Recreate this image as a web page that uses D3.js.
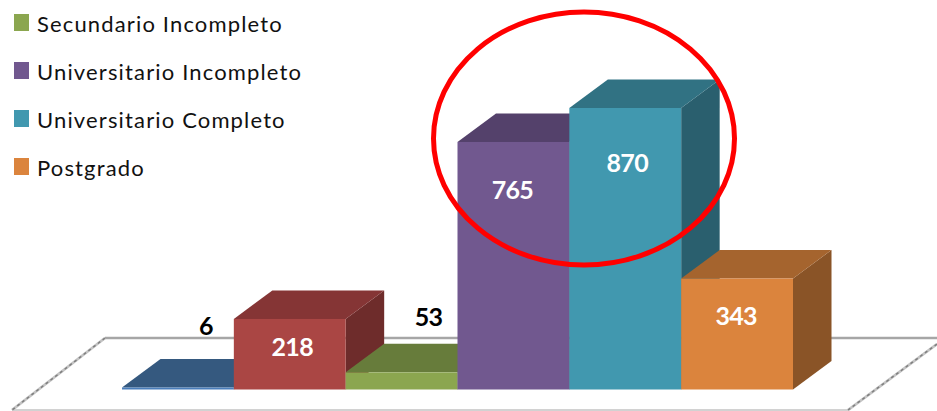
<!DOCTYPE html>
<html>
<head>
<meta charset="utf-8">
<script src="https://cdn.jsdelivr.net/npm/d3@7/dist/d3.min.js"></script>
<style>
html,body{margin:0;padding:0;background:#fff;overflow:hidden}
svg{display:block}
text{font-family:Lato,"Open Sans",sans-serif}
</style>
</head>
<body>
<svg id="c" width="937" height="411"></svg>
<script>
const categories = ["Primario","Secundario Completo","Secundario Incompleto","Universitario Incompleto","Universitario Completo","Postgrado"];
const values = [6,218,53,765,870,343];
const frontColors = ["#4A7EBB","#AA4644","#8BA64F","#71588F","#4198AF","#DB843D"];
const topColors = ["#35597F","#853535","#677C3B","#54416B","#317283","#A5642E"];
const sideColors = ["#2C4A6B","#6E2C2B","#566832","#463659","#2A5F6E","#8A5427"];
const legendItems = ["Secundario Incompleto","Universitario Incompleto","Universitario Completo","Postgrado"];
const legendColors = ["#8BA64F","#71588F","#4198AF","#DB843D"];

const W = 937, H = 411;
const svg = d3.select("#c");
const x = d3.scaleBand().domain(categories).range([122,793]).padding(0);
const y = d3.scaleLinear().domain([0,870]).range([389.5,108]);
const depthX = 38.5, depthY = 28.5;
const fmt = d3.line();

// floor
const floor = svg.append("g");
floor.append("line").attr("x1",105).attr("y1",338).attr("x2",W).attr("y2",338)
  .attr("stroke","#a6a6a6").attr("stroke-width",2.4);
floor.append("line").attr("x1",12).attr("y1",410).attr("x2",849).attr("y2",410)
  .attr("stroke","#a6a6a6").attr("stroke-width",1.2);
[[105,338,12,410],[937,344,848,410]].forEach(d=>{
  floor.append("line").attr("x1",d[0]).attr("y1",d[1]).attr("x2",d[2]).attr("y2",d[3])
    .attr("stroke","#c4c4c4").attr("stroke-width",2.8);
  floor.append("line").attr("x1",d[0]).attr("y1",d[1]).attr("x2",d[2]).attr("y2",d[3])
    .attr("stroke","#7f7f7f").attr("stroke-width",1.5).attr("stroke-dasharray","3 3");
});

// bars
const bars = svg.append("g");
categories.forEach((c,i)=>{
  const x0 = x(c), x1 = x0 + x.bandwidth();
  const yT = y(values[i]), yB = y(0);
  const g = bars.append("g");
  g.append("path").attr("fill",sideColors[i])
    .attr("d",fmt([[x1,yT],[x1+depthX,yT-depthY],[x1+depthX,yB-depthY],[x1,yB]])+"Z");
  g.append("path").attr("fill",topColors[i])
    .attr("d",fmt([[x0,yT],[x0+depthX,yT-depthY],[x1+depthX,yT-depthY],[x1,yT]])+"Z");
  g.append("rect").attr("x",x0).attr("y",yT).attr("width",x1-x0).attr("height",yB-yT)
    .attr("fill",frontColors[i]);
});

// data labels: white inside the tall bars, black floating behind the two short ones
const outside = [true,false,true,false,false,false];
const labelShiftX = [28,2.5,27,-1,2,-1];
const labelShiftY = [-61,28,-55,48,55,38];
const labels = svg.append("g").attr("font-weight",700).attr("font-size",25)
  .attr("letter-spacing",-0.7).attr("text-anchor","middle");
categories.forEach((c,i)=>{
  const cx = x(c)+x.bandwidth()/2, yT = y(values[i]);
  labels.append("text").attr("x",cx+labelShiftX[i]).attr("y",yT+labelShiftY[i]).attr("dy","0.35em")
    .attr("fill",outside[i]?"#000":"#fff").text(values[i]);
});

// highlight ellipse
svg.append("ellipse").attr("cx",584).attr("cy",138.5).attr("rx",150.5).attr("ry",126.5)
  .attr("fill","none").attr("stroke","#ff0000").attr("stroke-width",5);

// legend
const legendY = d3.scalePoint().domain(legendItems).range([22.5,166.5]);
const legend = svg.append("g");
legendItems.forEach((t,i)=>{
  legend.append("rect").attr("x",14).attr("y",legendY(t)-8.5).attr("width",15).attr("height",17).attr("fill",legendColors[i]);
  legend.append("text").attr("x",37).attr("y",legendY(t)+2).attr("dy","0.35em")
    .attr("font-size",22).attr("letter-spacing",1.15).attr("fill","#111").text(t);
});
</script>
</body>
</html>
